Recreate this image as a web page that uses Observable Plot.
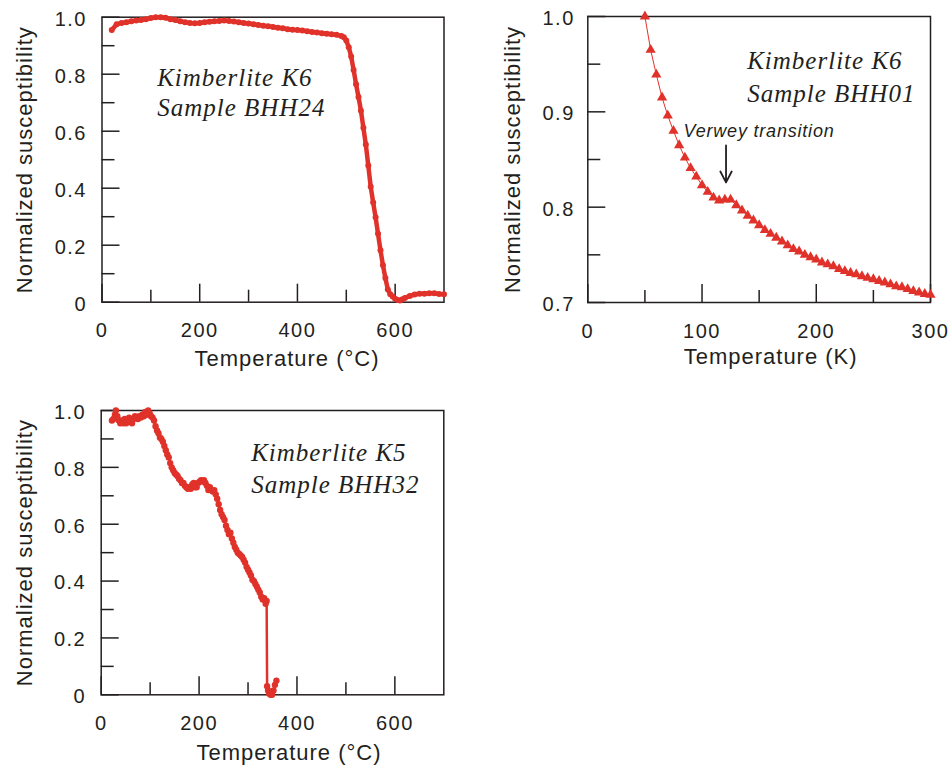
<!DOCTYPE html>
<html><head><meta charset="utf-8">
<script src="https://cdn.jsdelivr.net/npm/d3@7"></script>
<script src="https://cdn.jsdelivr.net/npm/@observablehq/plot@0.6"></script>
<style>
body{margin:0;background:#fff;}
#root{position:relative;width:951px;height:767px;overflow:hidden;}
.panel{position:absolute;}
g[font-size="20"] text{letter-spacing:1.5px;}
g[font-size="22"] text{letter-spacing:1px;}
g[font-size="25"] text{letter-spacing:1px;}
g[font-size="18"] text{letter-spacing:0.8px;}
</style></head><body><div id="root"></div>
<script>
// ---------- Data ----------
// Panel A: Kimberlite K6, Sample BHH24 (temperature °C vs normalized susceptibility)
const bhh24T = [20,30,40,50,60,70,80,90,100,110,120,130,140,150,160,170,180,190,200,210,220,230,240,250,260,270,280,290,300,310,320,330,340,350,360,370,380,390,400,410,420,430,440,450,460,470,480,490,495,500,505,510,515,520,525,530,535,540,545,550,555,560,565,570,575,580,585,590,595,600,605,610,615,620,630,640,650,660,670,680,690,700];
const bhh24V = [0.955,0.975,0.98,0.982,0.986,0.988,0.99,0.993,0.997,1.0,1.0,0.998,0.993,0.99,0.986,0.982,0.98,0.979,0.98,0.982,0.984,0.986,0.987,0.988,0.987,0.985,0.982,0.98,0.978,0.975,0.973,0.97,0.968,0.966,0.963,0.961,0.958,0.956,0.955,0.953,0.951,0.948,0.946,0.944,0.942,0.94,0.938,0.934,0.93,0.918,0.895,0.862,0.815,0.765,0.72,0.672,0.612,0.553,0.48,0.405,0.35,0.298,0.24,0.182,0.13,0.085,0.045,0.028,0.02,0.012,0.008,0.006,0.01,0.015,0.022,0.027,0.03,0.03,0.031,0.031,0.029,0.028];

// Panel B: Kimberlite K6, Sample BHH01 (temperature K)
const bhh01T = [50,55,60,65,70,75,80,85,90,95,100,105,110,115,120,125,130,135,140,145,150,155,160,165,170,175,180,185,190,195,200,205,210,215,220,225,230,235,240,245,250,255,260,265,270,275,280,285,290,295,300];
const bhh01V = [1.0,0.965,0.939,0.915,0.896,0.88,0.865,0.852,0.841,0.832,0.823,0.816,0.81,0.807,0.808,0.808,0.802,0.7965,0.791,0.786,0.781,0.776,0.772,0.768,0.764,0.76,0.756,0.7535,0.75,0.7475,0.745,0.742,0.74,0.738,0.735,0.733,0.731,0.7295,0.7275,0.7258,0.7244,0.7226,0.721,0.719,0.717,0.716,0.714,0.712,0.7105,0.709,0.708];

// Panel C: Kimberlite K5, Sample BHH32 (temperature °C)
const bhh32T = [22,25,28,30,33,36,39,42,45,48,51,54,57,60,63,66,69,72,75,78,81,84,87,90,93,96,99,102,105,108,111,114,117,120,123,126,129,132,135,138,141,144,147,150,153,156,159,162,165,168,171,174,177,180,183,186,189,192,195,198,201,204,207,210,213,216,219,222,225,228,231,234,237,240,243,246,249,252,255,258,261,264,267,270,273,276,279,282,285,288,291,294,297,300,303,306,309,312,315,318,321,324,327,330,333,336,338,339,341,343,346,349,352,355,358];
const bhh32V = [0.965,0.97,0.985,1.0,0.98,0.965,0.955,0.965,0.955,0.97,0.955,0.96,0.975,0.96,0.955,0.97,0.98,0.975,0.97,0.98,0.975,0.985,0.98,0.995,0.985,1.0,0.99,0.98,0.975,0.965,0.945,0.93,0.92,0.905,0.9,0.89,0.875,0.86,0.845,0.835,0.815,0.8,0.79,0.78,0.775,0.77,0.76,0.755,0.745,0.745,0.735,0.73,0.725,0.73,0.725,0.74,0.745,0.73,0.73,0.745,0.75,0.755,0.75,0.755,0.745,0.735,0.72,0.73,0.72,0.715,0.72,0.705,0.69,0.67,0.65,0.635,0.625,0.615,0.595,0.58,0.565,0.57,0.55,0.535,0.52,0.51,0.5,0.495,0.49,0.485,0.475,0.465,0.45,0.44,0.43,0.42,0.405,0.4,0.39,0.38,0.37,0.36,0.345,0.335,0.34,0.32,0.33,0.03,0.015,0.005,0.0,0.0,0.015,0.035,0.05];

// Axis ticks
const xTicksC = [0,200,400,600];
const xMinorC = [100,300,500];
const yTicksA = [0,0.2,0.4,0.6,0.8,1.0];
const yMinorA = [0.1,0.3,0.5,0.7,0.9];
const xTicksK = [0,100,200,300];
const xMinorK = [50,150,250];
const yTicksB = [0.7,0.8,0.9,1.0];
const yMinorB = [0.75,0.85,0.95];

// Text
const yTitle = "Normalized susceptibility";
const xTitleC = "Temperature (°C)";
const xTitleK = "Temperature (K)";
const labelsA = ["Kimberlite K6", "Sample BHH24"];
const labelsB = ["Kimberlite K6", "Sample BHH01"];
const labelsC = ["Kimberlite K5", "Sample BHH32"];
const verwey = {text: "Verwey transition", x: 83.8, y: 0.874, ax: 121, ay1: 0.8647, ay2: 0.826};

// ---------- Drawing ----------
const RED = "#e0322a";
const INK = "#231f20";
const SANS = "Liberation Sans, Arial, Helvetica, sans-serif";
const SERIF = "Liberation Serif, Times New Roman, serif";

function panel(o) {
  const plotW = o.width - o.ml - o.mr;
  const plotH = o.height - o.mt - o.mb;
  const pts = o.T.map((t, i) => ({t, v: o.V[i]}));
  const marks = [
    Plot.frame({stroke: INK, strokeWidth: 1.5}),
    Plot.tickX(o.xMajor, {x: d => d, stroke: INK, strokeWidth: 1.5, insetTop: plotH - 18}),
    Plot.tickX(o.xMinor, {x: d => d, stroke: INK, strokeWidth: 1.5, insetTop: plotH - 12}),
    Plot.tickY(o.yMajor, {y: d => d, stroke: INK, strokeWidth: 1.5, insetRight: plotW - 18}),
    Plot.tickY(o.yMinor, {y: d => d, stroke: INK, strokeWidth: 1.5, insetRight: plotW - 13}),
    Plot.text(o.xMajor, {x: d => d, frameAnchor: "bottom", lineAnchor: "top", dy: 21, text: d => String(d), fontSize: 20, fontFamily: SANS, fill: INK}),
    Plot.text(o.yMajor, {y: d => d, frameAnchor: "left", textAnchor: "end", dx: -o.yLabPad, dy: 2, text: d => d === 0 ? "0" : d.toFixed(1), fontSize: 20, fontFamily: SANS, fill: INK}),
    Plot.text([o.xTitle], {frameAnchor: "bottom", textAnchor: "middle", lineAnchor: "bottom", dx: o.xTitleDx, dy: o.xTitleDy, text: d => d, fontSize: 22, fontFamily: SANS, fill: INK}),
    Plot.text([yTitle], {frameAnchor: "left", textAnchor: "middle", rotate: -90, lineAnchor: "middle", dx: -o.yTitleDx, text: d => d, fontSize: 22, fontFamily: SANS, fill: INK}),
    Plot.text([o.labels[0]], {frameAnchor: "top-left", textAnchor: "start", lineAnchor: "bottom", dx: o.labDx, dy: o.labDy[0], text: d => d, fontSize: 25, fontFamily: SERIF, fontStyle: "italic", fill: INK}),
    Plot.text([o.labels[1]], {frameAnchor: "top-left", textAnchor: "start", lineAnchor: "bottom", dx: o.labDx, dy: o.labDy[1], text: d => d, fontSize: 25, fontFamily: SERIF, fontStyle: "italic", fill: INK}),
    Plot.line(pts, {x: "t", y: "v", stroke: RED, strokeWidth: o.lineW}),
    Plot.dot(pts, {x: "t", y: "v", fill: RED, r: o.r, symbol: o.symbol || "circle", stroke: "none"}),
    ...(o.extra || [])
  ];
  const svg = Plot.plot({
    width: o.width, height: o.height,
    marginLeft: o.ml, marginRight: o.mr, marginTop: o.mt, marginBottom: o.mb,
    x: {domain: o.xDomain, axis: null},
    y: {domain: o.yDomain, axis: null},
    style: {background: "transparent", overflow: "visible", fontFamily: SANS},
    marks
  });
  svg.classList.add("panel");
  svg.style.left = o.left + "px";
  svg.style.top = o.top + "px";
  document.getElementById("root").appendChild(svg);
}

panel({
  left: 0, top: 0, width: 470, height: 380, ml: 101.5, mr: 26.5, mt: 16.7, mb: 78.3,
  T: bhh24T, V: bhh24V, xDomain: [0, 700], yDomain: [0, 1],
  xMajor: xTicksC, xMinor: xMinorC, yMajor: yTicksA, yMinor: yMinorA,
  xTitle: xTitleC, xTitleDx: 14, xTitleDy: 63.3, yTitleDx: 77.5, yLabPad: 15,
  labels: labelsA, labDx: 55.2, labDy: [68.3, 98.3],
  lineW: 4.5, r: 3
});

panel({
  left: 480, top: 0, width: 471, height: 380, ml: 107.3, mr: 21, mt: 16, mb: 78,
  T: bhh01T, V: bhh01V, xDomain: [0, 300], yDomain: [0.7, 1.0],
  xMajor: xTicksK, xMinor: xMinorK, yMajor: yTicksB, yMinor: yMinorB,
  xTitle: xTitleK, xTitleDx: 11.5, xTitleDy: 61, yTitleDx: 75.3, yLabPad: 13,
  labels: labelsB, labDx: 159.4, labDy: [52.3, 85],
  lineW: 1, r: 3.8, symbol: "triangle",
  extra: [
    Plot.text([verwey], {x: "x", y: "y", text: "text", textAnchor: "start", lineAnchor: "bottom", fontSize: 18, fontFamily: SANS, fontStyle: "italic", fill: INK}),
    Plot.arrow([verwey], {x1: "ax", x2: "ax", y1: "ay1", y2: "ay2", stroke: INK, strokeWidth: 1.8, headLength: 15, headAngle: 55})
  ]
});

panel({
  left: 0, top: 390, width: 470, height: 377, ml: 100.7, mr: 26.7, mt: 20, mb: 72.7,
  T: bhh32T, V: bhh32V, xDomain: [0, 700], yDomain: [0, 1],
  xMajor: xTicksC, xMinor: xMinorC, yMajor: yTicksA, yMinor: yMinorA,
  xTitle: xTitleC, xTitleDx: 16.5, xTitleDy: 64.7, yTitleDx: 76.7, yLabPad: 15,
  labels: labelsC, labDx: 150, labDy: [50, 82.7],
  lineW: 2.5, r: 3.2
});
</script>
</body></html>
